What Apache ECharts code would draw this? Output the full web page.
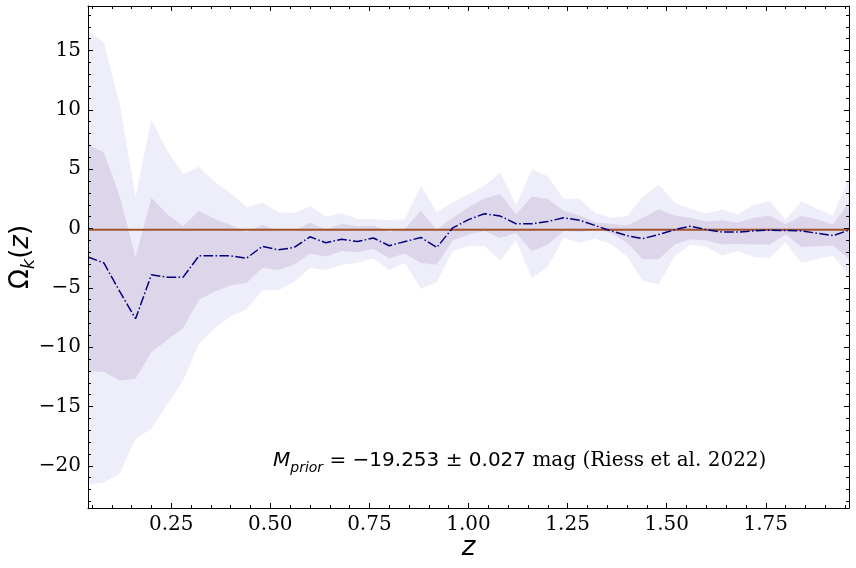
<!DOCTYPE html>
<html><head><meta charset="utf-8">
<script src="https://cdn.jsdelivr.net/npm/echarts@6/dist/echarts.min.js"></script>
<style>html,body{margin:0;padding:0;background:#fff}#c{width:856px;height:568px}</style>
</head><body><div id="c"></div>
<script>
// ---- data ----
const z = [0.04,0.08,0.12,0.16,0.20,0.24,0.28,0.32,0.36,0.40,0.44,0.48,0.52,0.56,0.60,0.64,0.68,
  0.72,0.76,0.80,0.84,0.88,0.92,0.96,1.00,1.04,1.08,1.12,1.16,1.20,1.24,1.28,1.32,
  1.36,1.40,1.44,1.48,1.52,1.56,1.60,1.64,1.68,1.72,1.76,1.80,1.84,1.88,1.92,1.96];
const meanOk = [-2.4,-2.9,-5.3,-7.6,-3.9,-4.1,-4.1,-2.3,-2.3,-2.3,-2.5,-1.5,-1.8,-1.6,-0.7,-1.2,-0.9,
  -1.1,-0.8,-1.45,-1.1,-0.75,-1.6,0.05,0.75,1.25,1.05,0.4,0.4,0.6,0.9,0.7,0.25,
  -0.2,-0.6,-0.85,-0.5,-0.1,0.2,-0.1,-0.3,-0.3,-0.2,-0.14,-0.17,-0.2,-0.4,-0.6,-0.14];
const upper1 = [7.1,6.4,2.7,-2.4,2.6,1.2,0.2,1.5,0.8,0.3,-0.3,0.3,-0.2,-0.2,0.5,-0.1,0.4,
  0.2,0.25,-0.3,0.0,1.5,-0.1,0.9,1.8,2.5,2.9,1.2,2.7,2.5,1.5,1.1,0.5,
  0.4,0.25,0.9,1.6,1.1,0.9,0.6,0.7,0.5,0.9,1.1,0.35,1.05,0.76,0.35,2.2];
const lower1 = [-12.0,-12.1,-12.8,-12.65,-10.4,-9.4,-8.4,-6.0,-5.3,-4.8,-4.6,-3.3,-3.5,-3.05,-2.1,-2.35,-1.9,
  -2.0,-1.7,-2.5,-2.1,-2.9,-3.05,-1.0,-0.5,-0.2,-0.8,-0.37,-1.9,-1.35,-0.2,-0.3,-0.08,
  -0.4,-1.2,-2.6,-2.6,-1.35,-0.9,-1.0,-1.35,-1.3,-1.35,-1.35,-0.5,-1.55,-1.5,-1.45,-2.6];
const upper2 = [16.6,15.7,10.5,2.7,9.2,6.55,4.6,5.2,3.9,3.0,1.8,2.2,1.4,1.3,1.9,1.0,1.3,
  0.8,0.8,0.7,0.8,3.6,1.4,2.2,2.9,3.6,4.7,2.0,5.0,4.4,2.5,2.5,1.3,
  0.9,1.05,2.7,3.7,2.2,1.67,1.27,1.6,1.2,2.0,2.3,0.76,2.3,1.67,1.1,4.3];
const lower2 = [-21.6,-21.4,-20.65,-17.7,-16.9,-14.8,-12.8,-9.7,-8.4,-7.4,-6.8,-5.2,-5.2,-4.5,-3.3,-3.5,-3.05,
  -2.9,-2.5,-3.5,-2.9,-5.1,-4.5,-1.9,-1.5,-1.5,-2.7,-1.0,-4.2,-3.2,-0.8,-1.2,-0.85,
  -1.35,-2.35,-4.4,-4.7,-2.35,-1.35,-1.55,-2.3,-1.9,-2.4,-2.5,-1.15,-2.9,-2.6,-2.3,-4.0];
const referenceLevel = -0.1;

const xMajorTicks = [0.25,0.50,0.75,1.00,1.25,1.50,1.75];
const xMinorTicks = [0.05,0.10,0.15,0.20,0.30,0.35,0.40,0.45,0.55,0.60,0.65,0.70,0.80,0.85,0.90,0.95,
  1.05,1.10,1.15,1.20,1.30,1.35,1.40,1.45,1.55,1.60,1.65,1.70,1.80,1.85,1.90,1.95];
const yMajorTicks = [-20,-15,-10,-5,0,5,10,15];
const yMinorTicks = [-23,-22,-21,-19,-18,-17,-16,-14,-13,-12,-11,-9,-8,-7,-6,-4,-3,-2,-1,
  1,2,3,4,6,7,8,9,11,12,13,14,16,17,18];
const xRange = [0.04, 1.96];
const yRange = [-23.55, 18.75];
const annotation = '{m|M}{sub|prior}{n| = \u221219.253 \u00b1 0.027}{s| mag (Riess et al. 2022)}';

// ---- chart ----
const chart = echarts.init(document.getElementById('c'), null, {renderer: 'canvas'});
const black = '#000';
const lineSt = {color: black, width: 1};

function xAx(pos, ticks, len, labels) {
  return {
    type: 'value', position: pos, min: xRange[0], max: xRange[1], z: 10,
    axisLine: {show: labels, onZero: false, lineStyle: lineSt},
    splitLine: {show: false},
    axisTick: {show: true, inside: true, length: len, customValues: ticks, lineStyle: lineSt},
    axisLabel: labels ? {show: true, customValues: ticks, formatter: v => v.toFixed(2),
      fontFamily: 'DejaVu Serif', fontSize: 20, color: black, margin: 7} : {show: false}
  };
}
function yAx(pos, ticks, len, labels) {
  return {
    type: 'value', position: pos, min: yRange[0], max: yRange[1], z: 10,
    axisLine: {show: labels, onZero: false, lineStyle: lineSt},
    splitLine: {show: false},
    axisTick: {show: true, inside: true, length: len, customValues: ticks, lineStyle: lineSt},
    axisLabel: labels ? {show: true, customValues: ticks, formatter: v => String(v).replace('-', '\u2212'),
      fontFamily: 'DejaVu Serif', fontSize: 20, color: black, margin: 7} : {show: false}
  };
}

const xAxes = [xAx('bottom', xMajorTicks, 5, true), xAx('bottom', xMinorTicks, 3, false),
               xAx('top', xMajorTicks, 5, true), xAx('top', xMinorTicks, 3, false)];
xAxes[2].axisLabel = {show: false};
xAxes[0].name = 'z';
xAxes[0].nameLocation = 'middle';
xAxes[0].nameGap = 27;
xAxes[0].nameMoveOverlap = false;
xAxes[0].nameTextStyle = {fontFamily: 'DejaVu Sans', fontStyle: 'italic', fontSize: 26, color: black};

const yAxes = [yAx('left', yMajorTicks, 5, true), yAx('left', yMinorTicks, 3, false),
               yAx('right', yMajorTicks, 5, true), yAx('right', yMinorTicks, 3, false)];
yAxes[2].axisLabel = {show: false};
yAxes[0].name = '{o|\u03a9}{k|k}{o|(}{zi|z}{o|)}';
yAxes[0].nameLocation = 'middle';
yAxes[0].nameRotate = 90;
yAxes[0].nameGap = 50;
yAxes[0].nameMoveOverlap = false;
yAxes[0].nameTextStyle = {
  color: black,
  rich: {
    o: {fontFamily: 'DejaVu Sans', fontSize: 26, lineHeight: 34, verticalAlign: 'middle', color: black},
    zi: {fontFamily: 'DejaVu Sans', fontStyle: 'italic', fontSize: 26, lineHeight: 34, verticalAlign: 'middle', color: black},
    k: {fontFamily: 'DejaVu Sans', fontStyle: 'italic', fontSize: 18, lineHeight: 20, verticalAlign: 'bottom', color: black}
  }
};

function band(lo, hi, color) {
  return {
    type: 'custom', xAxisIndex: 0, yAxisIndex: 0, silent: true, clip: true, z: 1,
    data: z.map((v, i) => [v, lo[i], hi[i]]),
    encode: {x: 0, y: [1, 2]},
    renderItem: function (params, api) {
      if (params.dataIndex !== 0) return null;
      const pts = [];
      for (let i = 0; i < z.length; i++) pts.push(api.coord([z[i], hi[i]]));
      for (let i = z.length - 1; i >= 0; i--) pts.push(api.coord([z[i], lo[i]]));
      return {type: 'polygon', shape: {points: pts}, style: {fill: color, stroke: null}};
    }
  };
}

const rt = (o) => Object.assign({fontWeight: 'normal', color: black}, o);

const option = {
  animation: false,
  backgroundColor: '#fff',
  grid: {left: 88, right: 7, top: 6, bottom: 60, containLabel: false, outerBoundsMode: 'none'},
  xAxis: xAxes,
  yAxis: yAxes,
  title: {
    left: 268, top: 442,
    text: annotation,
    textStyle: {
      fontWeight: 'normal',
      rich: {
        m: rt({fontFamily: 'DejaVu Sans', fontStyle: 'italic', fontSize: 20, lineHeight: 28, verticalAlign: 'middle'}),
        sub: rt({fontFamily: 'DejaVu Sans', fontStyle: 'italic', fontSize: 14, lineHeight: 16, verticalAlign: 'bottom'}),
        n: rt({fontFamily: 'DejaVu Sans', fontSize: 20, lineHeight: 28, verticalAlign: 'middle'}),
        s: rt({fontFamily: 'DejaVu Serif', fontSize: 20, lineHeight: 28, verticalAlign: 'middle'})
      }
    }
  },
  series: [
    band(lower2, upper2, '#eeeefa'),
    band(lower1, upper1, '#ddd5e9'),
    {
      type: 'line', xAxisIndex: 0, yAxisIndex: 0, showSymbol: false, silent: true, z: 2,
      data: [[xRange[0], referenceLevel], [xRange[1], referenceLevel]],
      lineStyle: {color: '#a0522d', width: 2}
    },
    {
      type: 'line', xAxisIndex: 0, yAxisIndex: 0, showSymbol: false, silent: true, z: 3,
      data: z.map((v, i) => [v, meanOk[i]]),
      lineStyle: {color: '#000080', width: 1.5, type: [9.6, 2.4, 1.5, 2.4]}
    }
  ]
};
chart.setOption(option);
</script>
</body></html>
